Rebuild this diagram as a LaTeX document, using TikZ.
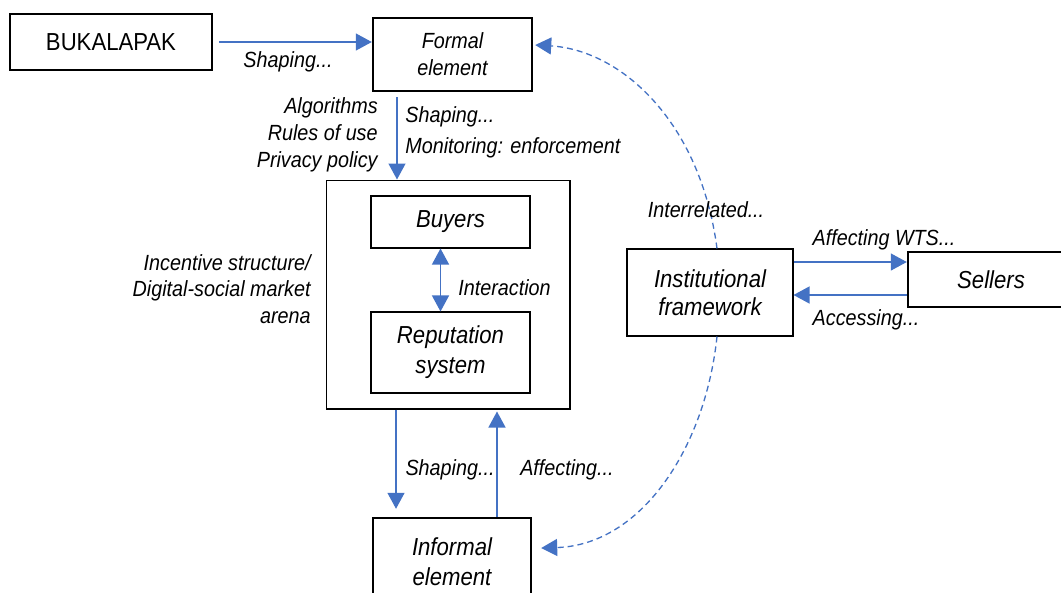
\documentclass[tikz,border=0pt]{standalone}
\usepackage{fontspec}
\setmainfont{Liberation Sans}[FakeStretch=0.9]
\usetikzlibrary{arrows.meta}
\definecolor{linkblue}{RGB}{68,114,196}

\begin{document}
\begin{tikzpicture}[x=0.02cm,y=-0.02cm,>={Triangle[length=0.32cm,width=0.34cm]}]
    \tikzset{box/.style={draw,line width=0.6pt,align=center,inner sep=0pt},
        boldbox/.style={box,line width=1.4pt},
        boxtext/.style={font=\itshape\fontsize{14}{17}\selectfont},
        lbl/.style={font=\itshape\fontsize{12.5}{15.3}\selectfont,inner sep=0pt},
        flow/.style={draw=linkblue,line width=0.75pt,->},
        linkdash/.style={flow,dash pattern=on 3.4pt off 2.3pt}};
    \clip (0,0) rectangle (1061,592);
    \fill[white] (0,0) rectangle (1061,592);
    % boxes
    \node[boldbox,minimum width=4.04cm,minimum height=1.12cm,font=\fontsize{14}{16}\selectfont] (bk) at (111,42) {BUKALAPAK};
    \node[boldbox,minimum width=3.18cm,minimum height=1.46cm,font=\itshape\fontsize{12.5}{15.3}\selectfont] (fe) at (452.5,54.5) {Formal\\element};
    \node[box,minimum width=4.88cm,minimum height=4.58cm] (arena) at (448,294.5) {};
    \node[box,boxtext,minimum width=3.18cm,minimum height=1.04cm] (by) at (450.5,222) {Buyers};
    \node[box,boxtext,minimum width=3.18cm,minimum height=1.62cm] (rp) at (450.5,352.5) {Reputation\\system};
    \node[box,boxtext,minimum width=3.32cm,minimum height=1.74cm,font=\itshape\fontsize{14}{16}\selectfont] (inst) at (710,292.5) {Institutional\\framework};
    \node[boldbox,boxtext,minimum width=3.32cm,minimum height=1.1cm] (sel) at (991,279.5) {Sellers};
    \node[boldbox,boxtext,minimum width=3.16cm,minimum height=1.76cm] (ie) at (452,562) {Informal\\element};
    % top
    \draw[flow] ([xshift=0.12cm]bk.east) -- (bk.east -| fe.west);
    \node[lbl] (shape1) at (288,62) {Shaping...};
    \coordinate (f1) at (397,97);
    \draw[flow] (f1) -- (f1 |- arena.north);
    \node[lbl,anchor=east,align=right] (rules) at (378,135) {Algorithms\\Rules of use\\Privacy policy};
    \node[lbl,anchor=west,align=left,font=\itshape\fontsize{12.5}{17.6}\selectfont] (shape2) at (405,132.5) {Shaping...\\Monitoring: enforcement};
    \node[lbl,anchor=east,align=right,font=\itshape\fontsize{12.5}{15}\selectfont] (incent) at (311,289) {Incentive structure/\\Digital-social market\\arena};
    % inside the arena
    \draw[flow,<->] ([xshift=-0.2cm]by.south) -- ([xshift=-0.2cm]rp.north);
    \node[lbl,anchor=west] (inter) at (458,288) {Interaction};
    % sellers
    \coordinate (s1) at ([yshift=0.61cm]inst.east);
    \draw[flow] (s1) -- (s1 -| sel.west);
    \coordinate (s2) at ([yshift=-0.31cm]sel.west);
    \draw[flow] (s2) -- (s2 -| inst.east);
    \node[lbl] (wts) at (884,240) {Affecting WTS...};
    \node[lbl] (acc) at (866,320) {Accessing...};
    % bottom
    \coordinate (a1) at ([xshift=-1.04cm]arena.south);
    \coordinate (a1e) at ([yshift=0.16cm]ie.north);
    \draw[flow] (a1) -- (a1 |- a1e);
    \coordinate (a2) at ([xshift=0.9cm]ie.north);
    \coordinate (a2e) at ([yshift=-0.04cm]arena.south);
    \draw[flow] (a2) -- (a2 |- a2e);
    \node[lbl] (shape3) at (450,470) {Shaping...};
    \node[lbl] (aff) at (567,470) {Affecting...};
    % dashed links
    \draw[linkdash] ([xshift=0.14cm]inst.north) .. controls (700,120) and (620,50) .. ([xshift=0.04cm,yshift=0.19cm]fe.east);
    \draw[linkdash] ([xshift=0.14cm]inst.south) .. controls (705,450) and (640,545) .. ([xshift=0.18cm,yshift=0.28cm]ie.east);
    \node[lbl] (rel) at (706,210) {Interrelated...};
\end{tikzpicture}
\end{document}
